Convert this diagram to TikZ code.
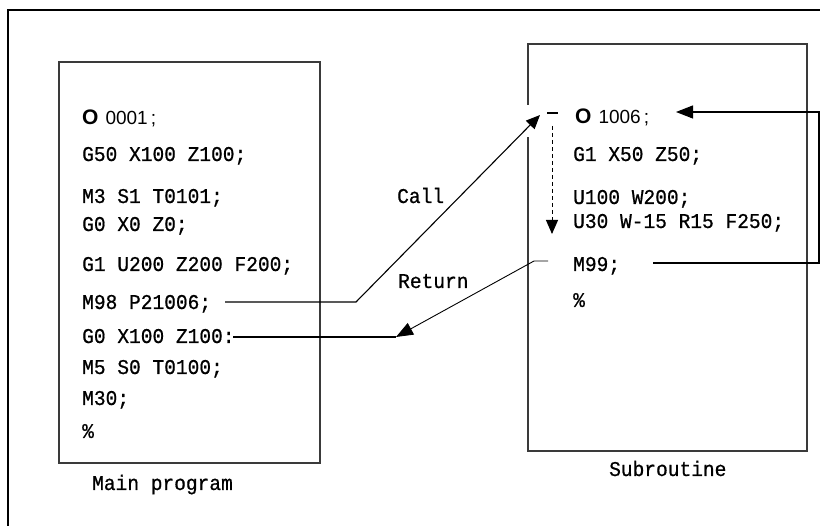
\documentclass[tikz,border=0pt]{standalone}
\usepackage{fontspec}
\newfontfamily\codefont[FakeStretch=0.93,FakeBold=0.7]{Liberation Mono}
\newfontfamily\labfont{Liberation Sans}
\usetikzlibrary{arrows.meta}
\definecolor{boxgray}{HTML}{3A3A3A}
\begin{document}
\begin{tikzpicture}[x=1pt,y=-1pt,
  codeline/.style={anchor=base west, inner sep=0pt, font=\codefont\fontsize{21}{21}\selectfont},
  boxstyle/.style={draw=boxgray, line width=2pt, inner sep=0pt},
  conn/.style={draw=black, line width=1.1pt},
  tipbig/.style={-{Triangle[length=17pt,width=13pt]}},
  tipsmall/.style={-{Triangle[length=14pt,width=12pt]}},
]
\useasboundingbox (0,0) rectangle (820,526);
\fill[white] (0,0) rectangle (820,526);
% outer frame (runs off the right and bottom edges)
\coordinate (frameA) at (8,540);
\coordinate (frameB) at (8,10);
\coordinate (frameC) at (840,10);
\draw[line width=1.6pt] (frameA) -- (frameB) -- (frameC);

% boxes
\node[boxstyle, minimum width=261pt, minimum height=401pt] (mainbox) at (189.5,262.5) {};
\node[boxstyle, minimum width=279pt, minimum height=407pt] (subbox) at (667.5,247.5) {};
\fill[white] (525,105) rectangle (531,137);

% main program text
\node[codeline] (m1) at (82,124.5) {{\labfont\bfseries\fontsize{21}{21}\selectfont O}\hspace{7pt}{\labfont\fontsize{19}{19}\selectfont 0001\,;}};
\node[codeline] (m2) at (82,161) {G50 X100 Z100;};
\node[codeline] (m3) at (82,203) {M3 S1 T0101;};
\node[codeline] (m4) at (82,231) {G0 X0 Z0;};
\node[codeline] (m5) at (82,271) {G1 U200 Z200 F200;};
\node[codeline] (m6) at (82,309) {M98 P21006;};
\node[codeline] (m7) at (82,343) {G0 X100 Z100:};
\node[codeline] (m8) at (82,374) {M5 S0 T0100;};
\node[codeline] (m9) at (82,405) {M30;};
\node[codeline] (m10) at (82,438) {\%};
\node[codeline] (mainlab) at (92,490) {Main program};

% subroutine text
\node[codeline] (s1) at (575,124) {{\labfont\bfseries\fontsize{21}{21}\selectfont O}\hspace{7pt}{\labfont\fontsize{19}{19}\selectfont 1006\,;}};
\node[codeline] (s2) at (573,161) {G1 X50 Z50;};
\node[codeline] (s3) at (573,204) {U100 W200;};
\node[codeline] (s4) at (573,228) {U30 W-15 R15 F250;};
\node[codeline] (s5) at (573,271) {M99;};
\node[codeline] (s6) at (573,307) {\%};
\node[codeline] (sublab) at (609,476) {Subroutine};

% labels
\node[codeline] (calllab) at (397,203) {Call};
\node[codeline] (retlab) at (398,288) {Return};

% call connector
\coordinate (callstart) at (225,302);
\coordinate (callbend) at (356,302);
\coordinate (calltip) at (540,115);
\draw[conn, tipsmall] (callstart) -- (callbend) -- (calltip);
\coordinate (odashA) at (547,113);
\coordinate (odashB) at (558,113);
\draw[conn] (odashA) -- (odashB);

% dashed flow arrow
\coordinate (flowtop) at (552,126);
\coordinate (flowtip) at (552,234);
\draw[conn, line width=1pt, dash pattern=on 4pt off 3pt, tipsmall] (flowtop) -- (flowtip);

% return connector
\coordinate (retstart) at (548,261);
\coordinate (retbend) at (534,261);
\coordinate (rettip) at (396,337);
\draw[conn, line width=0.9pt, tipbig] (retstart) -- (retbend) -- (rettip);
\coordinate (g0end) at (233,337);
\draw[conn] (g0end) -- (rettip);

% loop from M99 back to O1006
\coordinate (loopstart) at (653,263);
\coordinate (loopA) at (819,263);
\coordinate (loopB) at (819,112);
\coordinate (looptip) at (676,112);
\draw[conn, tipbig] (loopstart) -- (loopA) -- (loopB) -- (looptip);
\end{tikzpicture}
\end{document}
